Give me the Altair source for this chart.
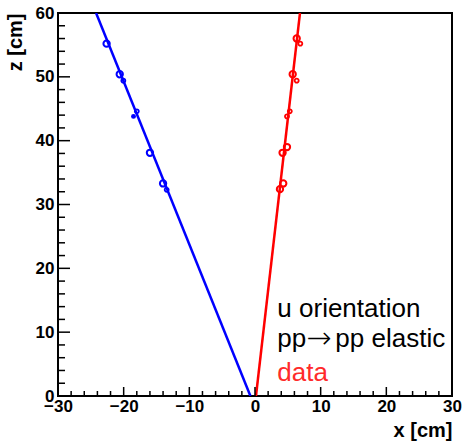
import altair as alt
import pandas as pd

# track hits (x [cm], z [cm])
blue_x = [-22.6, -20.6, -20.05, -18.0, -18.5, -16.0, -14.0, -13.45]
blue_z = [55.2, 50.4, 49.4, 44.6, 43.8, 38.1, 33.3, 32.3]
blue_kind = ["big", "big", "small", "small", "dot", "big", "big", "small"]

red_x = [6.35, 6.9, 5.74, 6.35, 5.3, 4.87, 4.87, 4.2, 4.3, 3.8]
red_z = [56.0, 55.2, 50.4, 49.4, 44.6, 43.8, 39.0, 38.1, 33.3, 32.4]
red_kind = ["big", "small", "big", "small", "small", "small", "big", "big", "big", "big"]

# fitted lines (two ends each)
blue_line_x = [-0.7, -24.2]
blue_line_z = [0, 60]
red_line_x = [0.15, 6.85]
red_line_z = [0, 60]

# annotation text
line1 = "u orientation"
line2_a, line2_arrow, line2_b = "pp", "\u2192", "pp elastic"
line3 = "data"
ann_x = 3.4
ann_z = [12.4, 7.6, 2.4]

x_ticks = list(range(-30, 31, 2))
z_ticks = list(range(0, 61, 2))

W, H = 394, 383
FONT = "Liberation Sans"

xs = alt.Scale(domain=[-30, 30], nice=False, zero=False)
zs = alt.Scale(domain=[0, 60], nice=False, zero=False)

hits = pd.DataFrame({
    "x": blue_x + red_x,
    "z": blue_z + red_z,
    "kind": blue_kind + red_kind,
    "track": ["u"] * len(blue_x) + ["v"] * len(red_x),
})
lines = pd.DataFrame({
    "x": blue_line_x + red_line_x,
    "z": blue_line_z + red_line_z,
    "track": ["u"] * 2 + ["v"] * 2,
})
xt = pd.DataFrame({"v": x_ticks, "major": [v % 10 == 0 for v in x_ticks]})
zt = pd.DataFrame({"v": z_ticks, "major": [v % 10 == 0 for v in z_ticks]})

color = alt.Color("track:N", scale=alt.Scale(domain=["u", "v"], range=["#0000ff", "#ff0000"]), legend=None)

base_x = alt.X("x:Q", scale=xs, title="x [cm]",
               axis=alt.Axis(values=list(range(-30, 31, 10)), ticks=False, domain=False, grid=False,
                             labelFont=FONT, labelFontWeight="bold", labelFontSize=17, labelColor="black",
                             labelPadding=2, labelOverlap=False, labelFlush=False, labelBound=False,
                             titleFont=FONT, titleFontWeight="bold", titleFontSize=20, titleColor="black",
                             titleAnchor="end", titlePadding=6))
base_z = alt.Y("z:Q", scale=zs, title="z [cm]",
               axis=alt.Axis(values=list(range(0, 61, 10)), ticks=False, domain=False, grid=False,
                             labelFont=FONT, labelFontWeight="bold", labelFontSize=17, labelColor="black",
                             labelPadding=4, labelOverlap=False, labelFlush=False, labelBound=False,
                             titleFont=FONT, titleFontWeight="bold", titleFontSize=20, titleColor="black",
                             titleAnchor="end", titlePadding=10))

line_layer = alt.Chart(lines).mark_line(strokeWidth=2.5, clip=True).encode(
    x=base_x, y=base_z, color=color, detail="track:N")

big = alt.Chart(hits).transform_filter("datum.kind == 'big'").mark_point(
    shape="circle", filled=False, size=40, strokeWidth=2, opacity=1).encode(
    x=alt.X("x:Q", scale=xs), y=alt.Y("z:Q", scale=zs), color=color)
small = alt.Chart(hits).transform_filter("datum.kind == 'small'").mark_point(
    shape="circle", filled=False, size=16, strokeWidth=1.8, opacity=1).encode(
    x=alt.X("x:Q", scale=xs), y=alt.Y("z:Q", scale=zs), color=color)
dot = alt.Chart(hits).transform_filter("datum.kind == 'dot'").mark_point(
    shape="circle", filled=True, size=24, opacity=1).encode(
    x=alt.X("x:Q", scale=xs), y=alt.Y("z:Q", scale=zs), color=color)

xmaj = alt.Chart(xt).transform_filter("datum.major").mark_rule(color="black", strokeWidth=1.5).encode(
    x=alt.X("v:Q", scale=xs), y=alt.value(H), y2=alt.value(H - 9))
xmin = alt.Chart(xt).transform_filter("!datum.major").mark_rule(color="black", strokeWidth=1.5).encode(
    x=alt.X("v:Q", scale=xs), y=alt.value(H), y2=alt.value(H - 5))
zmaj = alt.Chart(zt).transform_filter("datum.major").mark_rule(color="black", strokeWidth=1.5).encode(
    y=alt.Y("v:Q", scale=zs), x=alt.value(0), x2=alt.value(12))
zmin = alt.Chart(zt).transform_filter("!datum.major").mark_rule(color="black", strokeWidth=1.5).encode(
    y=alt.Y("v:Q", scale=zs), x=alt.value(0), x2=alt.value(7))


def ann(txt, z, color="black", dx=0, font=FONT, size=26, dy=0, weight="normal"):
    df = pd.DataFrame({"t": [txt], "x": [ann_x], "z": [z]})
    return alt.Chart(df).mark_text(align="left", baseline="alphabetic", font=font, fontSize=size,
                                   fontWeight=weight, color=color, dx=dx, dy=dy).encode(
        x=alt.X("x:Q", scale=xs), y=alt.Y("z:Q", scale=zs), text="t:N")


t1 = ann(line1, ann_z[0])
t2a = ann(line2_a, ann_z[1])
t2arrow = ann(line2_arrow, ann_z[1], dx=29, font="DejaVu Sans", size=30, dy=1, weight=200)
t2b = ann(line2_b, ann_z[1], dx=58)
t3 = ann(line3, ann_z[2], color="#ff2a2a")

chart = alt.layer(line_layer, big, small, dot, xmaj, xmin, zmaj, zmin, t1, t2a, t2arrow, t2b, t3).properties(
    width=W, height=H,
    autosize=alt.AutoSizeParams(type="none"),
    padding={"left": 58, "top": 13, "right": 11, "bottom": 48},
    background="white",
).configure_view(stroke="black", strokeWidth=2)

chart.save("out.html", embed_options={"renderer": "svg", "actions": False})
